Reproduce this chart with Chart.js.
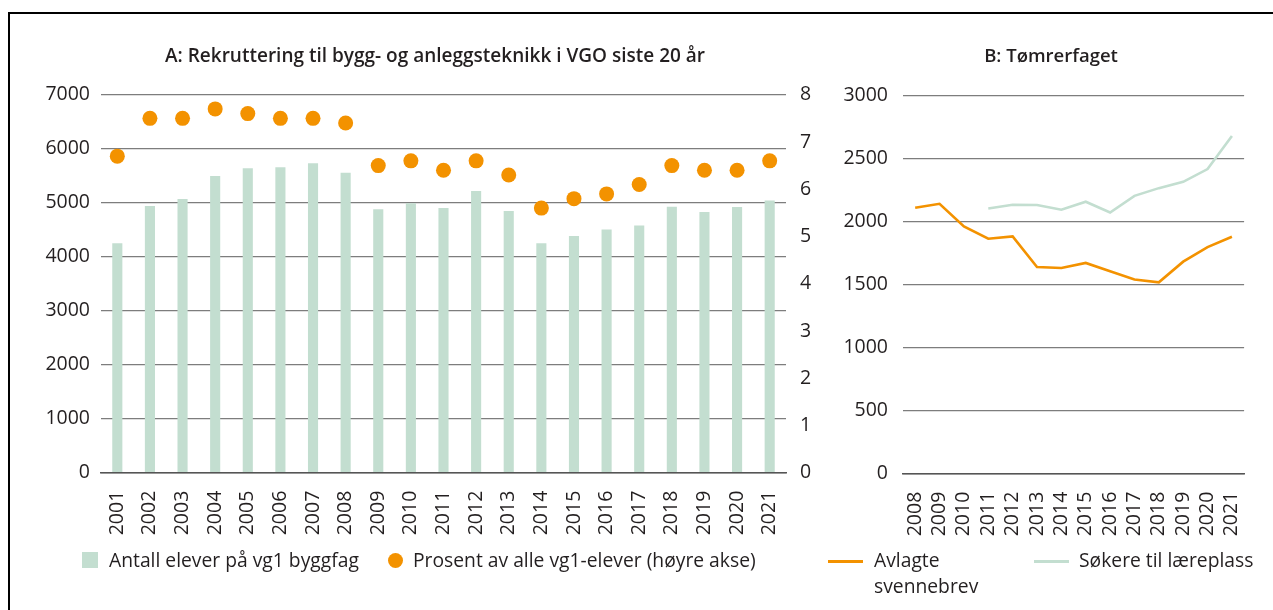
<!DOCTYPE html>
<html>
<head>
<meta charset="utf-8">
<script src="https://cdn.jsdelivr.net/npm/chart.js@4"></script>
<style>
  html, body { margin: 0; padding: 0; background: #fff; overflow: hidden; }
  body { width: 1273px; height: 610px; position: relative; font-family: 'Open Sans', sans-serif; color: #231f20; }
  .frame { position: absolute; left: 8px; top: 12px; width: 1300px; height: 700px; border-top: 2px solid #000; border-left: 2px solid #000; }
  canvas { position: absolute; }
  .leg { position: absolute; font-size: 19.3px; line-height: 26px; white-space: nowrap; }
  .sw { position: absolute; }
</style>
</head>
<body>
<div class="frame"></div>
<div style="position:absolute;left:8px;top:14px;width:854px;height:540px"><canvas id="chartA"></canvas></div>
<div style="position:absolute;left:836px;top:14px;width:430px;height:540px"><canvas id="chartB"></canvas></div>

<!-- legend A -->
<div class="sw" style="left:82px;top:552px;width:16px;height:16px;background:#c3ded0"></div>
<div class="leg" style="left:109px;top:547px">Antall elever på vg1 byggfag</div>
<div class="sw" style="left:388px;top:553px;width:15px;height:15px;border-radius:50%;background:#f39200"></div>
<div class="leg" style="left:413px;top:547px">Prosent av alle vg1-elever (høyre akse)</div>

<!-- legend B -->
<div class="sw" style="left:828px;top:560px;width:35px;height:3px;background:#f39200"></div>
<div class="leg" style="left:874px;top:547px">Avlagte<br>svennebrev</div>
<div class="sw" style="left:1034px;top:560px;width:35px;height:3px;background:#c3ded0"></div>
<div class="leg" style="left:1079px;top:547px">Søkere til læreplass</div>

<script>
// A: rekruttering bygg og anlegg
const aarA = ['2001','2002','2003','2004','2005','2006','2007','2008','2009','2010','2011',
              '2012','2013','2014','2015','2016','2017','2018','2019','2020','2021'];
const antallElever = [4250, 4940, 5070, 5495, 5640, 5655, 5730, 5555, 4880, 4990, 4900,
                      5215, 4845, 4250, 4385, 4505, 4580, 4925, 4830, 4920, 5040];
const prosentElever = [6.7, 7.5, 7.5, 7.7, 7.6, 7.5, 7.5, 7.4, 6.5, 6.6, 6.4,
                       6.6, 6.3, 5.6, 5.8, 5.9, 6.1, 6.5, 6.4, 6.4, 6.6];

// B: tomrerfaget
const aarB = ['2008','2009','2010','2011','2012','2013','2014','2015','2016','2017','2018','2019','2020','2021'];
const svennebrev = [2108, 2140, 1960, 1863, 1881, 1639, 1631, 1671, 1605, 1539, 1517, 1681, 1797, 1879];
const sokere = [null, null, null, 2103, 2132, 2130, 2093, 2156, 2071, 2203, 2264, 2314, 2415, 2678];

const ORANGE = '#f39200';
const GREEN = '#c3ded0';
const GRID = '#7d7d7d';

Chart.defaults.font.family = "'Open Sans', sans-serif";
Chart.defaults.font.size = 19.5;
Chart.defaults.color = '#231f20';

// no thousand separator on the axes
const plain = function (v) { return String(v); };
const xTicks = { autoSkip: false, minRotation: 90, maxRotation: 90, padding: 10 };

new Chart(document.getElementById('chartA'), {
    type: 'bar',
    data: {
        labels: aarA,
        datasets: [
            {
                label: 'Antall elever på vg1 byggfag',
                data: antallElever,
                backgroundColor: GREEN,
                categoryPercentage: 1,
                barPercentage: 0.31,
                yAxisID: 'y',
                order: 2,
            },
            {
                type: 'line',
                label: 'Prosent av alle vg1-elever (høyre akse)',
                data: prosentElever,
                showLine: false,
                pointRadius: 7.5,
                pointBackgroundColor: ORANGE,
                pointBorderWidth: 0,
                yAxisID: 'y1',
                order: 1,
            }]
    },
    options: {
        responsive: true,
        maintainAspectRatio: false,
        animation: false,
        layout: { padding: 0 },
        scales: {
            x: {
                grid: { display: false },
                border: { display: true, color: '#555', width: 1.5 },
                ticks: xTicks,
                afterFit: function (s) { s.height = 81.3; },
            },
            y: {
                min: 0, max: 7000,
                ticks: { stepSize: 1000, padding: 11, callback: plain },
                grid: { color: GRID, lineWidth: 1.2, drawTicks: false },
                border: { display: false },
                afterFit: function (s) { s.width = 93; },
            },
            y1: {
                position: 'right',
                min: 0, max: 8,
                ticks: { stepSize: 1, padding: 14, callback: plain },
                grid: { display: false, drawTicks: false },
                border: { display: false },
                afterFit: function (s) { s.width = 76; },
            },
        },
        plugins: {
            legend: { display: false },
            tooltip: { enabled: false },
            title: {
                display: true,
                text: 'A: Rekruttering til bygg- og anleggsteknikk i VGO siste 20 år',
                font: { size: 19, weight: '600' },
                padding: { top: 31.6, bottom: 26.3 },
            },
        }
    }
});

new Chart(document.getElementById('chartB'), {
    type: 'line',
    data: {
        labels: aarB,
        datasets: [
            {
                label: 'Avlagte svennebrev',
                data: svennebrev,
                borderColor: ORANGE,
                borderWidth: 2.6,
                pointRadius: 0,
                tension: 0,
            },
            {
                label: 'Søkere til læreplass',
                data: sokere,
                borderColor: GREEN,
                borderWidth: 2.6,
                pointRadius: 0,
                tension: 0,
            }]
    },
    options: {
        responsive: true,
        maintainAspectRatio: false,
        animation: false,
        layout: { padding: 0 },
        scales: {
            x: {
                offset: true,
                grid: { display: false },
                border: { display: true, color: '#555', width: 1.5 },
                ticks: xTicks,
                afterFit: function (s) { s.height = 80.3; },
            },
            y: {
                min: 0, max: 3000,
                ticks: { stepSize: 500, padding: 15, callback: plain },
                grid: { color: GRID, lineWidth: 1.2, drawTicks: false },
                border: { display: false },
                afterFit: function (s) { s.width = 67; },
            },
            // empty right side so the title centres like the original
            yPad: {
                position: 'right',
                ticks: { display: false },
                grid: { display: false, drawTicks: false },
                border: { display: false },
                afterFit: function (s) { s.width = 19; },
            },
        },
        plugins: {
            legend: { display: false },
            tooltip: { enabled: false },
            title: {
                display: true,
                text: 'B: Tømrerfaget',
                font: { size: 18.5, weight: '600' },
                padding: { top: 31.9, bottom: 27.2 },
            },
        }
    }
});
</script>
</body>
</html>
